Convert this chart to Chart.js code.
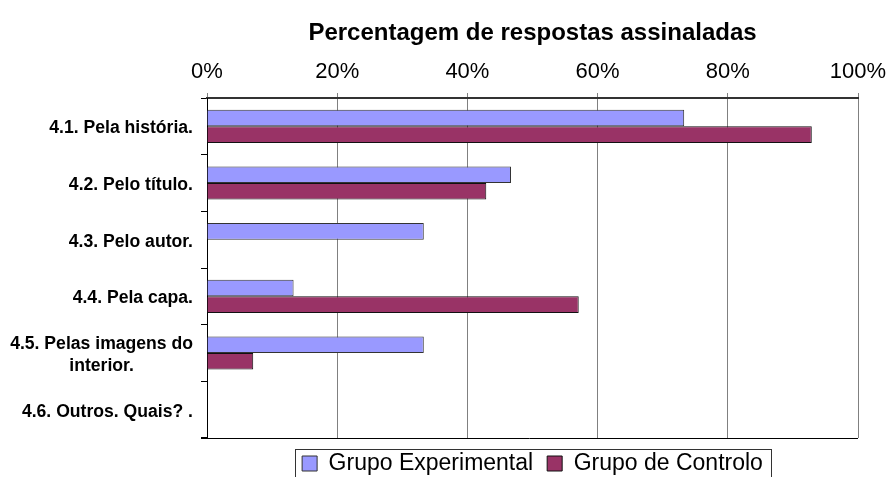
<!DOCTYPE html>
<html>
<head>
<meta charset="utf-8">
<script src="https://cdn.jsdelivr.net/npm/chart.js@4/dist/chart.umd.min.js"></script>
<style>
  html, body { margin: 0; padding: 0; background: #fff; }
  #wrap { width: 888px; height: 477px; }
</style>
</head>
<body>
<div id="wrap"><canvas id="chart" width="888" height="477"></canvas></div>
<script>
const categories = [
    "4.1. Pela história.",
    "4.2. Pelo título.",
    "4.3. Pelo autor.",
    "4.4. Pela capa.",
    ["4.5. Pelas imagens do", "interior."],
    "4.6. Outros. Quais? ."
];
const experimental = [73.3, 46.7, 33.3, 13.3, 33.3, 0];
const controlo = [92.9, 42.9, 0, 57.1, 7.1, 0];
const xTicks = [0, 20, 40, 60, 80, 100];

const FONT = "'Liberation Sans', Arial, sans-serif";

// category labels: block right aligned, lines centred inside the block
const categoryLabels = {
    id: "categoryLabels",
    afterDraw(chart) {
        const ctx = chart.ctx;
        const y = chart.scales.y;
        ctx.save();
        ctx.font = "bold 17.6px " + FONT;
        ctx.fillStyle = "#000";
        ctx.textAlign = "center";
        ctx.textBaseline = "middle";
        categories.forEach((lab, i) => {
            const lines = Array.isArray(lab) ? lab : [lab];
            const w = Math.max(...lines.map(l => ctx.measureText(l).width));
            const cx = 193 - w / 2;
            const cy = y.getPixelForValue(i) + 2;
            lines.forEach((l, j) => {
                ctx.fillText(l, cx, cy + (j - (lines.length - 1) / 2) * 22);
            });
        });
        ctx.restore();
    }
};

// bottom line of the plot area and the frame round the legend
const frames = {
    id: "frames",
    afterDraw(chart) {
        const ctx = chart.ctx;
        const a = chart.chartArea;
        ctx.save();
        ctx.strokeStyle = "#000";
        ctx.lineWidth = 1;
        ctx.beginPath();
        ctx.moveTo(a.left - 6, Math.round(a.bottom) + 0.5);
        ctx.lineTo(a.right, Math.round(a.bottom) + 0.5);
        ctx.stroke();

        const boxes = chart.legend.legendHitBoxes;
        if (boxes && boxes.length) {
            const first = boxes[0];
            const last = boxes[boxes.length - 1];
            const left = Math.round(first.left - 7) + 0.5;
            const right = Math.round(last.left + last.width + 8) + 0.5;
            const top = Math.round(first.top - 3) + 0.5;
            ctx.strokeStyle = "#333";
            ctx.strokeRect(left, top, right - left, 60);
        }
        ctx.restore();
    }
};

new Chart(document.getElementById("chart"), {
    type: "bar",
    data: {
        labels: categories,
        datasets: [
            {
                label: "Grupo Experimental",
                data: experimental,
                backgroundColor: "#9999FF",
                borderColor: "#333",
                borderWidth: 1,
                borderSkipped: "start",
                categoryPercentage: 0.585,
                barPercentage: 1
            },
            {
                label: "Grupo de Controlo",
                data: controlo,
                backgroundColor: "#993366",
                borderColor: "#111",
                borderWidth: 1,
                borderSkipped: "start",
                categoryPercentage: 0.585,
                barPercentage: 1
            }
        ]
    },
    options: {
        indexAxis: "y",
        responsive: false,
        animation: false,
        layout: { padding: { left: 0, right: 0, top: 0, bottom: 0 } },
        scales: {
            x: {
                position: "top",
                min: 0,
                max: 100,
                afterFit: s => { s.height = 98; s.paddingRight = 30; },
                afterBuildTicks: s => { s.ticks = xTicks.map(v => ({ value: v })); },
                ticks: {
                    padding: 8,
                    color: "#000",
                    font: { family: FONT, size: 22 },
                    callback: v => v + "%"
                },
                grid: { color: "#808080", lineWidth: 1, tickLength: 5 },
                border: { color: "#333", width: 2 },
                title: {
                    display: true,
                    text: "Percentagem de respostas assinaladas",
                    color: "#000",
                    font: { family: FONT, size: 24, weight: "bold" },
                    padding: { top: 19, bottom: 0 }
                }
            },
            y: {
                afterFit: s => { s.width = 207; },
                ticks: { display: false },
                grid: { drawOnChartArea: false, color: "#000", tickLength: 6, offset: true },
                border: { color: "#000", width: 1 }
            }
        },
        plugins: {
            title: { display: false },
            tooltip: { enabled: false },
            legend: {
                position: "bottom",
                fullSize: false,
                maxHeight: 39,
                labels: {
                    color: "#000",
                    font: { family: FONT, size: 23 },
                    boxWidth: 15,
                    boxHeight: 15,
                    padding: 14
                }
            }
        }
    },
    plugins: [categoryLabels, frames]
});
</script>
</body>
</html>
